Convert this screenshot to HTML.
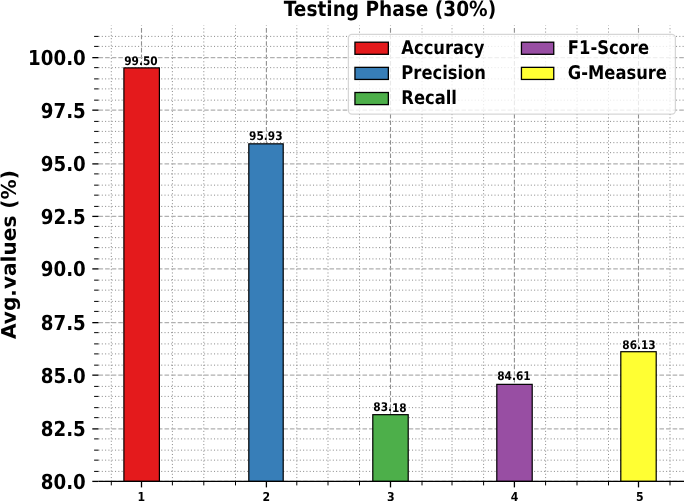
<!DOCTYPE html>
<html><head><meta charset="utf-8"><title>Testing Phase (30%)</title>
<style>html,body{margin:0;padding:0;background:#fff;overflow:hidden}svg{display:block}text{font-family:"DejaVu Sans", "Liberation Sans", sans-serif;font-weight:bold;fill:#000;text-rendering:geometricPrecision}</style></head><body>
<svg width="685" height="501" viewBox="0 0 685 501">
<rect width="685" height="501" fill="#fff"/>
<g stroke="#808080" stroke-width="0.900" stroke-dasharray="1.050 2.250" fill="none">
<path d="M111.30 481.40V25.60"/>
<path d="M172.40 481.40V25.60"/>
<path d="M203.80 481.40V25.60"/>
<path d="M235.50 481.40V25.60"/>
<path d="M296.80 481.40V25.60"/>
<path d="M328.00 481.40V25.60"/>
<path d="M359.50 481.40V25.60"/>
<path d="M422.00 481.40V25.60"/>
<path d="M452.00 481.40V25.60"/>
<path d="M483.60 481.40V25.60"/>
<path d="M545.60 481.40V25.60"/>
<path d="M577.00 481.40V25.60"/>
<path d="M608.50 481.40V25.60"/>
<path d="M670.00 481.40V25.60"/>
<path d="M98.50 471.40H684.00"/>
<path d="M98.50 460.15H684.00"/>
<path d="M98.50 450.15H684.00"/>
<path d="M98.50 438.90H684.00"/>
<path d="M98.50 417.65H684.00"/>
<path d="M98.50 407.65H684.00"/>
<path d="M98.50 396.40H684.00"/>
<path d="M98.50 386.40H684.00"/>
<path d="M98.50 365.15H684.00"/>
<path d="M98.50 353.90H684.00"/>
<path d="M98.50 343.90H684.00"/>
<path d="M98.50 332.65H684.00"/>
<path d="M98.50 311.40H684.00"/>
<path d="M98.50 301.40H684.00"/>
<path d="M98.50 290.15H684.00"/>
<path d="M98.50 280.15H684.00"/>
<path d="M98.50 258.90H684.00"/>
<path d="M98.50 247.65H684.00"/>
<path d="M98.50 237.65H684.00"/>
<path d="M98.50 226.40H684.00"/>
<path d="M98.50 206.40H684.00"/>
<path d="M98.50 195.15H684.00"/>
<path d="M98.50 185.15H684.00"/>
<path d="M98.50 173.90H684.00"/>
<path d="M98.50 152.65H684.00"/>
<path d="M98.50 142.65H684.00"/>
<path d="M98.50 131.40H684.00"/>
<path d="M98.50 121.40H684.00"/>
<path d="M98.50 100.15H684.00"/>
<path d="M98.50 88.90H684.00"/>
<path d="M98.50 78.90H684.00"/>
<path d="M98.50 67.65H684.00"/>
<path d="M98.50 46.40H684.00"/>
<path d="M98.50 36.40H684.00"/>
</g>
<g stroke="#b0b0b0" stroke-width="1.245" stroke-dasharray="4.607 1.992" fill="none">
<path stroke="#909090" stroke-width="1.1" d="M141.50 481.40V25.60"/>
<path stroke="#909090" stroke-width="1.1" d="M266.40 481.40V25.60"/>
<path stroke="#909090" stroke-width="1.1" d="M390.50 481.40V25.60"/>
<path stroke="#909090" stroke-width="1.1" d="M514.40 481.40V25.60"/>
<path stroke="#909090" stroke-width="1.1" d="M638.50 481.40V25.60"/>
<path d="M98.50 481.40H684.00"/>
<path d="M98.50 428.90H684.00"/>
<path d="M98.50 375.15H684.00"/>
<path d="M98.50 322.65H684.00"/>
<path d="M98.50 268.90H684.00"/>
<path d="M98.50 216.40H684.00"/>
<path d="M98.50 163.90H684.00"/>
<path d="M98.50 110.15H684.00"/>
<path d="M98.50 57.65H684.00"/>
</g>
<g stroke="#000" stroke-width="1.2">
<rect x="123.90" y="67.89" width="35.50" height="413.50" fill="#e41a1c"/>
<rect x="248.80" y="143.84" width="34.40" height="337.56" fill="#377eb8"/>
<rect x="372.80" y="414.67" width="35.40" height="66.73" fill="#4daf4a"/>
<rect x="496.80" y="384.36" width="35.40" height="97.04" fill="#984ea3"/>
<rect x="620.80" y="351.71" width="35.40" height="129.69" fill="#ffff33"/>
</g>
<g stroke="#000" fill="none">
<path stroke-width="1.3" d="M92.30 481.40H98.50"/>
<path stroke-width="1.3" d="M92.30 428.90H98.50"/>
<path stroke-width="1.3" d="M92.30 375.15H98.50"/>
<path stroke-width="1.3" d="M92.30 322.65H98.50"/>
<path stroke-width="1.3" d="M92.30 268.90H98.50"/>
<path stroke-width="1.3" d="M92.30 216.40H98.50"/>
<path stroke-width="1.3" d="M92.30 163.90H98.50"/>
<path stroke-width="1.3" d="M92.30 110.15H98.50"/>
<path stroke-width="1.3" d="M92.30 57.65H98.50"/>
<path stroke-width="1.0" d="M94.10 471.40H98.50"/>
<path stroke-width="1.0" d="M94.10 460.15H98.50"/>
<path stroke-width="1.0" d="M94.10 450.15H98.50"/>
<path stroke-width="1.0" d="M94.10 438.90H98.50"/>
<path stroke-width="1.0" d="M94.10 417.65H98.50"/>
<path stroke-width="1.0" d="M94.10 407.65H98.50"/>
<path stroke-width="1.0" d="M94.10 396.40H98.50"/>
<path stroke-width="1.0" d="M94.10 386.40H98.50"/>
<path stroke-width="1.0" d="M94.10 365.15H98.50"/>
<path stroke-width="1.0" d="M94.10 353.90H98.50"/>
<path stroke-width="1.0" d="M94.10 343.90H98.50"/>
<path stroke-width="1.0" d="M94.10 332.65H98.50"/>
<path stroke-width="1.0" d="M94.10 311.40H98.50"/>
<path stroke-width="1.0" d="M94.10 301.40H98.50"/>
<path stroke-width="1.0" d="M94.10 290.15H98.50"/>
<path stroke-width="1.0" d="M94.10 280.15H98.50"/>
<path stroke-width="1.0" d="M94.10 258.90H98.50"/>
<path stroke-width="1.0" d="M94.10 247.65H98.50"/>
<path stroke-width="1.0" d="M94.10 237.65H98.50"/>
<path stroke-width="1.0" d="M94.10 226.40H98.50"/>
<path stroke-width="1.0" d="M94.10 206.40H98.50"/>
<path stroke-width="1.0" d="M94.10 195.15H98.50"/>
<path stroke-width="1.0" d="M94.10 185.15H98.50"/>
<path stroke-width="1.0" d="M94.10 173.90H98.50"/>
<path stroke-width="1.0" d="M94.10 152.65H98.50"/>
<path stroke-width="1.0" d="M94.10 142.65H98.50"/>
<path stroke-width="1.0" d="M94.10 131.40H98.50"/>
<path stroke-width="1.0" d="M94.10 121.40H98.50"/>
<path stroke-width="1.0" d="M94.10 100.15H98.50"/>
<path stroke-width="1.0" d="M94.10 88.90H98.50"/>
<path stroke-width="1.0" d="M94.10 78.90H98.50"/>
<path stroke-width="1.0" d="M94.10 67.65H98.50"/>
<path stroke-width="1.0" d="M94.10 46.40H98.50"/>
<path stroke-width="1.0" d="M94.10 36.40H98.50"/>
<path stroke-width="1.3" d="M141.50 481.40V487.40"/>
<path stroke-width="1.3" d="M266.40 481.40V487.40"/>
<path stroke-width="1.3" d="M390.50 481.40V487.40"/>
<path stroke-width="1.3" d="M514.40 481.40V487.40"/>
<path stroke-width="1.3" d="M638.50 481.40V487.40"/>
<path stroke-width="1.0" d="M111.30 481.40V485.40"/>
<path stroke-width="1.0" d="M172.40 481.40V485.40"/>
<path stroke-width="1.0" d="M203.80 481.40V485.40"/>
<path stroke-width="1.0" d="M235.50 481.40V485.40"/>
<path stroke-width="1.0" d="M296.80 481.40V485.40"/>
<path stroke-width="1.0" d="M328.00 481.40V485.40"/>
<path stroke-width="1.0" d="M359.50 481.40V485.40"/>
<path stroke-width="1.0" d="M422.00 481.40V485.40"/>
<path stroke-width="1.0" d="M452.00 481.40V485.40"/>
<path stroke-width="1.0" d="M483.60 481.40V485.40"/>
<path stroke-width="1.0" d="M545.60 481.40V485.40"/>
<path stroke-width="1.0" d="M577.00 481.40V485.40"/>
<path stroke-width="1.0" d="M608.50 481.40V485.40"/>
<path stroke-width="1.0" d="M670.00 481.40V485.40"/>
<path stroke-width="1.2" d="M98.50 481.40H684.00"/>
</g>
<text transform="translate(140.90 64.60) rotate(0.03) scale(0.8890 1)" font-size="11.90" text-anchor="middle">99.50</text>
<text transform="translate(265.80 139.90) rotate(0.03) scale(0.8890 1)" font-size="11.90" text-anchor="middle">95.93</text>
<text transform="translate(390.00 411.50) rotate(0.03) scale(0.8890 1)" font-size="11.90" text-anchor="middle">83.18</text>
<text transform="translate(513.90 379.80) rotate(0.03) scale(0.8890 1)" font-size="11.90" text-anchor="middle">84.61</text>
<text transform="translate(639.00 348.80) rotate(0.03) scale(0.8890 1)" font-size="11.90" text-anchor="middle">86.13</text>
<text transform="translate(85.80 488.95) rotate(0.03) scale(0.8820 1)" font-size="20.70" text-anchor="end">80.0</text>
<text transform="translate(85.80 436.45) rotate(0.03) scale(0.8820 1)" font-size="20.70" text-anchor="end">82.5</text>
<text transform="translate(85.80 382.70) rotate(0.03) scale(0.8820 1)" font-size="20.70" text-anchor="end">85.0</text>
<text transform="translate(85.80 330.20) rotate(0.03) scale(0.8820 1)" font-size="20.70" text-anchor="end">87.5</text>
<text transform="translate(85.80 276.45) rotate(0.03) scale(0.8820 1)" font-size="20.70" text-anchor="end">90.0</text>
<text transform="translate(85.80 223.95) rotate(0.03) scale(0.8820 1)" font-size="20.70" text-anchor="end">92.5</text>
<text transform="translate(85.80 171.45) rotate(0.03) scale(0.8820 1)" font-size="20.70" text-anchor="end">95.0</text>
<text transform="translate(85.80 117.70) rotate(0.03) scale(0.8820 1)" font-size="20.70" text-anchor="end">97.5</text>
<text transform="translate(85.80 65.20) rotate(0.03) scale(0.8820 1)" font-size="20.70" text-anchor="end">100.0</text>
<text transform="translate(141.40 501.20) rotate(0.03) scale(0.8890 1)" font-size="12.30" text-anchor="middle">1</text>
<text transform="translate(266.40 501.20) rotate(0.03) scale(0.8890 1)" font-size="12.30" text-anchor="middle">2</text>
<text transform="translate(390.70 501.20) rotate(0.03) scale(0.8890 1)" font-size="12.30" text-anchor="middle">3</text>
<text transform="translate(514.50 501.20) rotate(0.03) scale(0.8890 1)" font-size="12.30" text-anchor="middle">4</text>
<text transform="translate(639.80 501.20) rotate(0.03) scale(0.8890 1)" font-size="12.30" text-anchor="middle">5</text>
<text transform="translate(389.90 16.00) rotate(0.03) scale(0.8890 1)" font-size="20.85" text-anchor="middle">Testing Phase (30%)</text>
<text transform="translate(15.8 254.6) rotate(-90.03)" font-size="20.1" text-anchor="middle">Avg.values (%)</text>
<rect x="348.4" y="34.4" width="327" height="79.6" rx="3.5" fill="#fff" fill-opacity="0.8" stroke="#ccc" stroke-opacity="0.8" stroke-width="1.25"/>
<rect x="354.95" y="42.20" width="33.4" height="12.1" fill="#e41a1c" stroke="#000" stroke-width="1.3"/>
<text transform="translate(401.35 53.50) rotate(0.03) scale(0.8700 1)" font-size="18.80" text-anchor="start">Accuracy</text>
<rect x="354.95" y="67.35" width="33.4" height="12.1" fill="#377eb8" stroke="#000" stroke-width="1.3"/>
<text transform="translate(401.35 78.65) rotate(0.03) scale(0.8700 1)" font-size="18.80" text-anchor="start">Precision</text>
<rect x="354.95" y="92.50" width="33.4" height="12.1" fill="#4daf4a" stroke="#000" stroke-width="1.3"/>
<text transform="translate(401.35 103.80) rotate(0.03) scale(0.8700 1)" font-size="18.80" text-anchor="start">Recall</text>
<rect x="521.45" y="42.20" width="32.3" height="12.1" fill="#984ea3" stroke="#000" stroke-width="1.3"/>
<text transform="translate(567.85 53.50) rotate(0.03) scale(0.8700 1)" font-size="18.80" text-anchor="start">F1-Score</text>
<rect x="521.45" y="67.35" width="32.3" height="12.1" fill="#ffff33" stroke="#000" stroke-width="1.3"/>
<text transform="translate(567.85 78.65) rotate(0.03) scale(0.8700 1)" font-size="18.80" text-anchor="start">G-Measure</text>
</svg></body></html>
